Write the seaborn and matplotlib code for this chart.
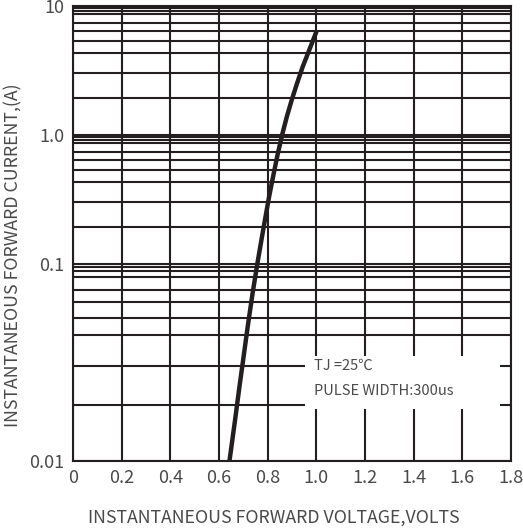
import matplotlib
matplotlib.use("Agg")
import matplotlib.pyplot as plt
from matplotlib.patches import Rectangle
import seaborn as sns
import numpy as np
import pandas as pd

# forward characteristic
voltage = [0.643, 0.666, 0.684, 0.701, 0.718, 0.738, 0.760, 0.784, 0.806, 0.825,
           0.842, 0.861, 0.879, 0.899, 0.921, 0.944, 0.971, 1.0]
current = [0.01, 0.01615, 0.0238, 0.0338, 0.0481, 0.071, 0.107, 0.195, 0.333, 0.505,
           0.721, 1.03, 1.39, 1.87, 2.52, 3.38, 4.56, 6.3]

x_ticks = [0, 0.2, 0.4, 0.6, 0.8, 1.0, 1.2, 1.4, 1.6, 1.8]
x_ticklabels = ["0", "0.2", "0.4", "0.6", "0.8", "1.0", "1.2", "1.4", "1.6", "1.8"]
y_ticks = [0.01, 0.1, 1, 10]
y_ticklabels = ["0.01", "0.1", "1.0", "10"]
# minor grid lines inside each decade (fraction of the decade value)
minor_mult = [0.96, 0.92, 0.86, 0.74, 0.64, 0.535, 0.435, 0.305, 0.192]

note_lines = ["TJ =25℃", "PULSE WIDTH:300us"]

# the printed grid is not a true log grid: lowest decade is drawn longer
dec_log = np.array([-12.0, -2.0, -1.0, 0.0, 1.0, 11.0])
dec_pos = np.array([-1970.0, 0.0, 197.0, 326.0, 455.0, 1745.0])


def fwd(v):
    v = np.maximum(np.asarray(v, dtype=float), 1e-12)
    return np.interp(np.log10(v), dec_log, dec_pos)


def inv(u):
    return 10 ** np.interp(np.asarray(u, dtype=float), dec_pos, dec_log)


sns.set_theme(style="white")
plt.rcParams["font.family"] = ["Noto Sans CJK SC", "DejaVu Sans"]

ink = "#231f20"
txt = "#4a4a4a"

fig = plt.figure(figsize=(5.23, 5.29), dpi=100)
ax = fig.add_axes([0.1396, 0.1285, 0.8374, 0.8602])

df = pd.DataFrame({"V": voltage, "I": current})
sns.lineplot(data=df, x="V", y="I", ax=ax, color=ink, linewidth=3.2, zorder=5)

ax.set_yscale("function", functions=(fwd, inv))
ax.set_xlim(0, 1.8)
ax.set_ylim(0.01, 10)

ax.set_xticks(x_ticks)
ax.set_xticklabels(x_ticklabels)
ax.set_yticks(y_ticks)
ax.set_yticklabels(y_ticklabels)
minors = [d * m for d in [0.1, 1, 10] for m in minor_mult]
ax.set_yticks(minors, minor=True)
ax.set_yticklabels([], minor=True)

ax.set_axisbelow(True)
ax.grid(which="major", axis="both", color=ink, linewidth=1.5)
ax.grid(which="minor", axis="y", color=ink, linewidth=1.5)
ax.tick_params(axis="both", which="both", length=0, colors=txt, labelsize=13)
ax.tick_params(axis="x", pad=6)
ax.tick_params(axis="y", pad=6)
for s in ax.spines.values():
    s.set_color(ink)
    s.set_linewidth(1.5)

ax.set_xlabel("INSTANTANEOUS FORWARD VOLTAGE,VOLTS", color=txt, fontsize=12.8)
ax.set_ylabel("INSTANTANEOUS FORWARD CURRENT,(A)", color=txt, fontsize=12.8)
ax.xaxis.set_label_coords(0.458, -0.105)
ax.yaxis.set_label_coords(-0.115, 0.452)

# white box under the note, cutting the grid
ax.add_patch(Rectangle((0.953, 0.01837), 0.803, 0.0341 - 0.01837,
                       facecolor="white", edgecolor="none", zorder=2))
ax.text(0.99, 0.0303, note_lines[0], color=txt, fontsize=10.5, va="center", zorder=3)
ax.text(0.99, 0.0228, note_lines[1], color=txt, fontsize=10.5, va="center", zorder=3)

fig.savefig("out.png", dpi=100)
